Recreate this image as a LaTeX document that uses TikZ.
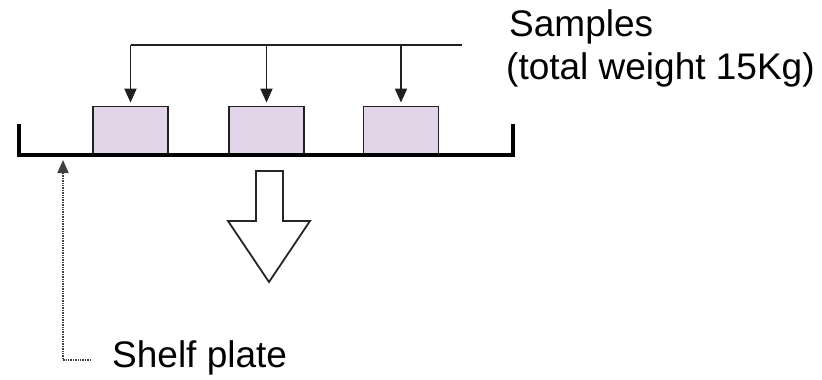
\documentclass[tikz,border=0pt]{standalone}
\usepackage{fontspec}
\setmainfont{Liberation Sans}
\usetikzlibrary{arrows.meta}
\definecolor{boxfill}{HTML}{E1D5E7}
\definecolor{boxline}{HTML}{202020}
\tikzset{
  sample/.style={draw=boxline, fill=boxfill, line width=1.8pt, minimum width=75pt, minimum height=47pt, inner sep=0pt},
  label/.style={anchor=base west, inner sep=0pt, font=\fontsize{37}{44}\selectfont},
  drop/.style={draw=boxline, line width=1.8pt, -{Triangle[length=14pt,width=12pt]}, shorten >=3pt},
  plate/.style={line width=4.5pt, line join=miter},
  hollow/.style={draw=black!85, line width=1.8pt, fill=white, line join=miter},
  pointer/.style={draw=black!75, line width=1.6pt, dash pattern=on 1.4pt off 1pt, -{Triangle[length=13pt,width=11pt]}}
}
\begin{document}
\begin{tikzpicture}[x=1pt,y=-1pt]
\useasboundingbox (0,0) rectangle (822,380);
% samples
\node[sample] (b1) at (130.5,130) {};
\node[sample] (b2) at (266.5,130) {};
\node[sample] (b3) at (401,130) {};
% feed line
\coordinate (tr) at (462,45);
\coordinate (t1) at (130.5,45);
\coordinate (t2) at (266.5,45);
\coordinate (t3) at (401,45);
\draw[draw=boxline, line width=1.8pt] (tr) -- (t1);
\draw[drop] (t1) -- (b1.north);
\draw[drop] (t2) -- (b2.north);
\draw[drop] (t3) -- (b3.north);
% shelf plate
\coordinate (pl) at (19,124);
\coordinate (pr) at (513,124);
\draw[plate] (pl) -- (19,155) -- (513,155) -- (pr);
% hollow arrow
\draw[hollow] (256,171) -- (283,171) -- (283,221) -- (310,221) -- (269,282) -- (228,221) -- (256,221) -- cycle;
% labels
\node[label] (samples) at (509,36) {Samples};
\node[label] (total) at (506,79) {(total weight 15Kg)};
\node[label] (shelf) at (112,367) {Shelf plate};
\coordinate (pc) at (63,360);
\coordinate (ptip) at (63,160);
\draw[pointer] (91,360) -- (pc) -- (ptip);
\end{tikzpicture}
\end{document}
